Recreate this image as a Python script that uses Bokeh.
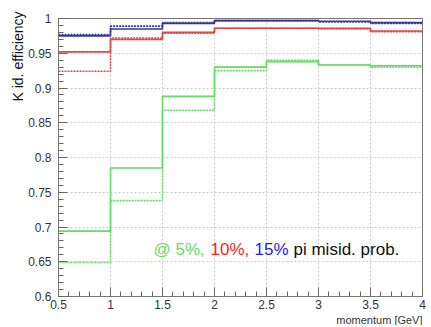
from bokeh.plotting import figure
from bokeh.models import Label, FixedTicker, Title
from bokeh.embed import file_html
from bokeh.resources import INLINE

# bin edges in momentum [GeV]
edges = [0.5, 1.0, 1.5, 2.0, 2.5, 3.0, 3.5, 4.0]

# K id. efficiency per bin, solid and dotted variants
blue_solid = [0.975, 0.985, 0.993, 0.997, 0.997, 0.996, 0.994]
blue_dot = [0.977, 0.989, 0.994, 0.997, 0.997, 0.995, 0.993]
red_solid = [0.952, 0.970, 0.980, 0.986, 0.986, 0.986, 0.982]
red_dot = [0.924, 0.972, 0.979, 0.986, 0.986, 0.985, 0.981]
green_solid = [0.694, 0.785, 0.888, 0.930, 0.938, 0.933, 0.932]
green_dot = [0.649, 0.738, 0.868, 0.925, 0.940, 0.933, 0.930]

x_ticks = [0.5, 1.0, 1.5, 2.0, 2.5, 3.0, 3.5, 4.0]
y_ticks = [0.6, 0.65, 0.7, 0.75, 0.8, 0.85, 0.9, 0.95, 1.0]

BLUE = "#34349c"
RED = "#e04848"
GREEN = "#5fe05f"
FONT = "Liberation Sans"

p = figure(width=428, height=325, x_range=(0.5, 4.0), y_range=(0.6, 1.0),
           output_backend="svg", toolbar_location=None,
           min_border_left=58, min_border_right=6, min_border_top=18,
           min_border_bottom=27)

p.outline_line_color = "#777777"
p.outline_line_width = 1
p.background_fill_color = "white"
p.border_fill_color = "white"

for ax in (p.xaxis, p.yaxis):
    ax.axis_line_color = "#777777"
    ax.major_tick_in = 9
    ax.major_tick_out = 0
    ax.minor_tick_in = 5
    ax.minor_tick_out = 0
    ax.major_tick_line_color = "#666666"
    ax.minor_tick_line_color = "#666666"
    ax.major_label_text_font = FONT
    ax.major_label_text_font_size = "12px"
    ax.major_label_text_color = "#333333"

p.xaxis.ticker = FixedTicker(ticks=x_ticks,
                             minor_ticks=[0.5 + 0.1 * i for i in range(36)])
p.yaxis.ticker = FixedTicker(ticks=y_ticks,
                             minor_ticks=[0.6 + 0.01 * i for i in range(41)])
p.xaxis.major_label_overrides = {t: f"{t:g}" for t in x_ticks}
p.yaxis.major_label_overrides = {t: f"{t:g}" for t in y_ticks}
p.xaxis.major_label_standoff = 3
p.yaxis.major_label_standoff = 7

p.xgrid.grid_line_color = "#c8c8c8"
p.ygrid.grid_line_color = "#c8c8c8"
p.xgrid.grid_line_dash = "2 2"
p.ygrid.grid_line_dash = "2 2"

def step(vals, color, dash):
    ys = list(vals) + [vals[-1]]
    p.step(edges, ys, mode="after", line_color=color, line_width=1.6,
           line_dash=dash)

step(green_dot, GREEN, "2 1")
step(green_solid, GREEN, "solid")
step(red_dot, RED, "2 1")
step(red_solid, RED, "solid")
step(blue_dot, BLUE, "2 1")
step(blue_solid, BLUE, "solid")

# axis titles (ROOT style, at the axis ends)
p.add_layout(Title(text="K id. efficiency", align="right", offset=-7,
                   text_font=FONT, text_font_size="14px",
                   text_font_style="normal", text_color="#111111",
                   standoff=0), "left")
p.add_layout(Title(text="momentum [GeV]", align="right",
                   text_font=FONT, text_font_size="11px",
                   text_font_style="normal", text_color="#333333",
                   standoff=0), "below")

# in-plot legend text
legend_parts = [("@ 5%,", GREEN, 1.4135), ("10%,", "#ff1a1a", 1.9615),
                ("15%", "#1a1aff", 2.3846), ("pi misid. prob.", "#111111", 2.7596)]
for txt, col, xs in legend_parts:
    p.add_layout(Label(x=xs, y=0.667, text=txt, text_color=col,
                       text_align="left", text_baseline="alphabetic",
                       text_font=FONT, text_font_size="17px"))

open("out.html", "w").write(file_html(p, INLINE))
